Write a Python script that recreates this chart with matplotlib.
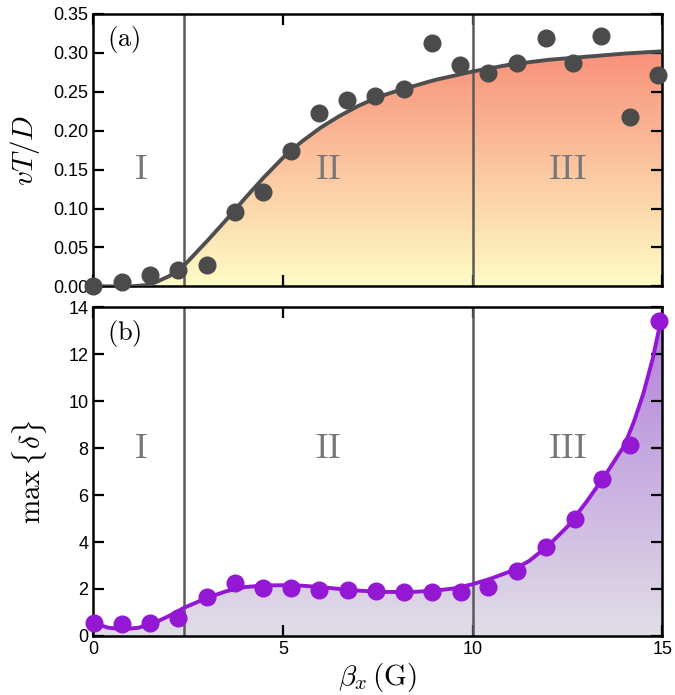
import matplotlib
matplotlib.use('Agg')
import matplotlib.pyplot as plt
import numpy as np
from matplotlib.colors import LinearSegmentedColormap

# measured points, panel (a)
bx_pts = [0.0, 0.77, 1.5, 2.23, 3.0, 3.73, 4.49, 5.22, 5.95, 6.69, 7.44,
          8.19, 8.94, 9.68, 10.41, 11.16, 11.93, 12.66, 13.4, 14.14, 14.9]
vtd_pts = [0.0, 0.005, 0.015, 0.021, 0.028, 0.096, 0.121, 0.174, 0.223, 0.240, 0.244,
           0.253, 0.312, 0.284, 0.274, 0.287, 0.319, 0.287, 0.322, 0.217, 0.272]

# fitted curve, panel (a)
bx_fit_a = [0.0, 0.5, 1.0, 1.5, 2.0, 2.4, 3.0, 3.5, 4.0, 4.5, 5.0, 5.5, 6.0, 6.5,
            7.0, 7.5, 8.0, 9.0, 10.0, 11.0, 12.0, 13.0, 14.0, 15.0]
vtd_fit = [0.0, 0.0, 0.0, 0.002, 0.013, 0.027, 0.058, 0.085, 0.113, 0.140, 0.165, 0.186,
           0.204, 0.219, 0.232, 0.243, 0.251, 0.265, 0.276, 0.285, 0.291, 0.295, 0.299, 0.302]

# measured points, panel (b)
bx_pts_b = [0.03, 0.76, 1.5, 2.23, 3.0, 3.74, 4.48, 5.22, 5.96, 6.73, 7.46,
            8.2, 8.94, 9.7, 10.41, 11.17, 11.93, 12.69, 13.42, 14.15, 14.92]
delta_pts = [0.55, 0.50, 0.55, 0.78, 1.66, 2.26, 2.02, 2.02, 1.94, 1.94, 1.90,
             1.86, 1.88, 1.86, 2.09, 2.77, 3.8, 5.0, 6.67, 8.11, 13.4]

# fitted curve, panel (b)
bx_fit_b = [0.0, 0.4, 0.8, 1.2, 1.6, 2.0, 2.4, 3.0, 3.5, 4.0, 4.5, 5.0, 5.5, 6.0,
            6.5, 7.0, 7.5, 8.0, 8.5, 9.0, 9.5, 10.0, 10.5, 11.0, 11.5, 12.0, 12.5,
            13.0, 13.5, 14.0, 14.25, 14.5, 14.75, 15.0]
delta_fit = [0.55, 0.35, 0.28, 0.35, 0.55, 0.85, 1.2, 1.62, 1.9, 2.08, 2.15, 2.16,
             2.14, 2.08, 2.0, 1.93, 1.88, 1.87, 1.88, 1.93, 2.02, 2.2, 2.45, 2.75,
             3.2, 3.85, 4.65, 5.7, 6.85, 8.1, 9.1, 10.3, 11.8, 13.7]

regions = ['I', 'II', 'III']
region_x = [1.25, 6.2, 12.5]
borders = [2.4, 10.0]

plt.rcParams['mathtext.fontset'] = 'cm'
plt.rcParams['font.family'] = ['Liberation Sans', 'DejaVu Sans']

fig = plt.figure(figsize=(6.75, 6.95), dpi=100)
ax1 = fig.add_axes([0.138, 0.588, 0.843, 0.392])
ax2 = fig.add_axes([0.138, 0.085, 0.843, 0.473])


def gradient_fill(ax, x, y, c_low, c_high, ymax):
    cmap = LinearSegmentedColormap.from_list('g', [c_low, c_high])
    poly = ax.fill_between(x, 0, y, facecolor='none', edgecolor='none')
    grad = np.linspace(0, 1, 256).reshape(-1, 1)
    im = ax.imshow(grad, cmap=cmap, aspect='auto', origin='lower',
                   extent=[0, 15, 0, ymax], zorder=0.5)
    path = poly.get_paths()[0]
    im.set_clip_path(path, transform=ax.transData)


gradient_fill(ax1, bx_fit_a, vtd_fit, '#fffcc6', '#f8917a', 0.30)
ax1.plot(bx_fit_a, vtd_fit, color='#4e4e4e', lw=2.8, zorder=3)
ax1.plot(bx_pts, vtd_pts, 'o', color='#4b4b4b', ms=12, zorder=4, clip_on=False)

gradient_fill(ax2, bx_fit_b, delta_fit, '#e1dee6', '#b27fdc', 13.7)
ax2.plot(bx_fit_b, delta_fit, color='#9417d4', lw=2.8, zorder=3)
ax2.plot(bx_pts_b, delta_pts, 'o', color='#9417d4', ms=12, zorder=4, clip_on=False)

for ax, ylim, yreg, lab, laby in [(ax1, (0, 0.35), 0.15, 'a', 0.905),
                                  (ax2, (0, 14), 8.0, 'b', 0.92)]:
    ax.set_xlim(0, 15)
    ax.set_ylim(*ylim)
    for b in borders:
        ax.axvline(b, color='#5a5a5a', lw=1.8, zorder=2)
    for t, xr in zip(regions, region_x):
        ax.text(xr, yreg, r'$\mathrm{%s}$' % t, ha='center', va='center',
                fontsize=25, color='#777777')
    ax.text(0.025, laby, r'$(\mathrm{%s})$' % lab, transform=ax.transAxes,
            fontsize=19, ha='left', va='center')
    ax.tick_params(direction='in', length=8, width=1.6, labelsize=13,
                   top=True, right=True)
    ax.set_xticks([0, 5, 10, 15])
    for s in ax.spines.values():
        s.set_linewidth(1.8)

ax1.set_yticks(np.arange(0, 0.351, 0.05))
ax1.set_yticklabels(['%.2f' % v for v in np.arange(0, 0.351, 0.05)])
ax1.tick_params(labelbottom=False)
ax2.set_yticks(range(0, 15, 2))

ax1.set_ylabel(r'$vT/D$', fontsize=21, labelpad=8)
ax2.set_ylabel(r'$\mathrm{max}\,\{\delta\}$', fontsize=21, labelpad=14)
ax2.set_xlabel(r'$\beta_x\,(\mathrm{G})$', fontsize=21, labelpad=2)

plt.savefig('out.png', dpi=100)
